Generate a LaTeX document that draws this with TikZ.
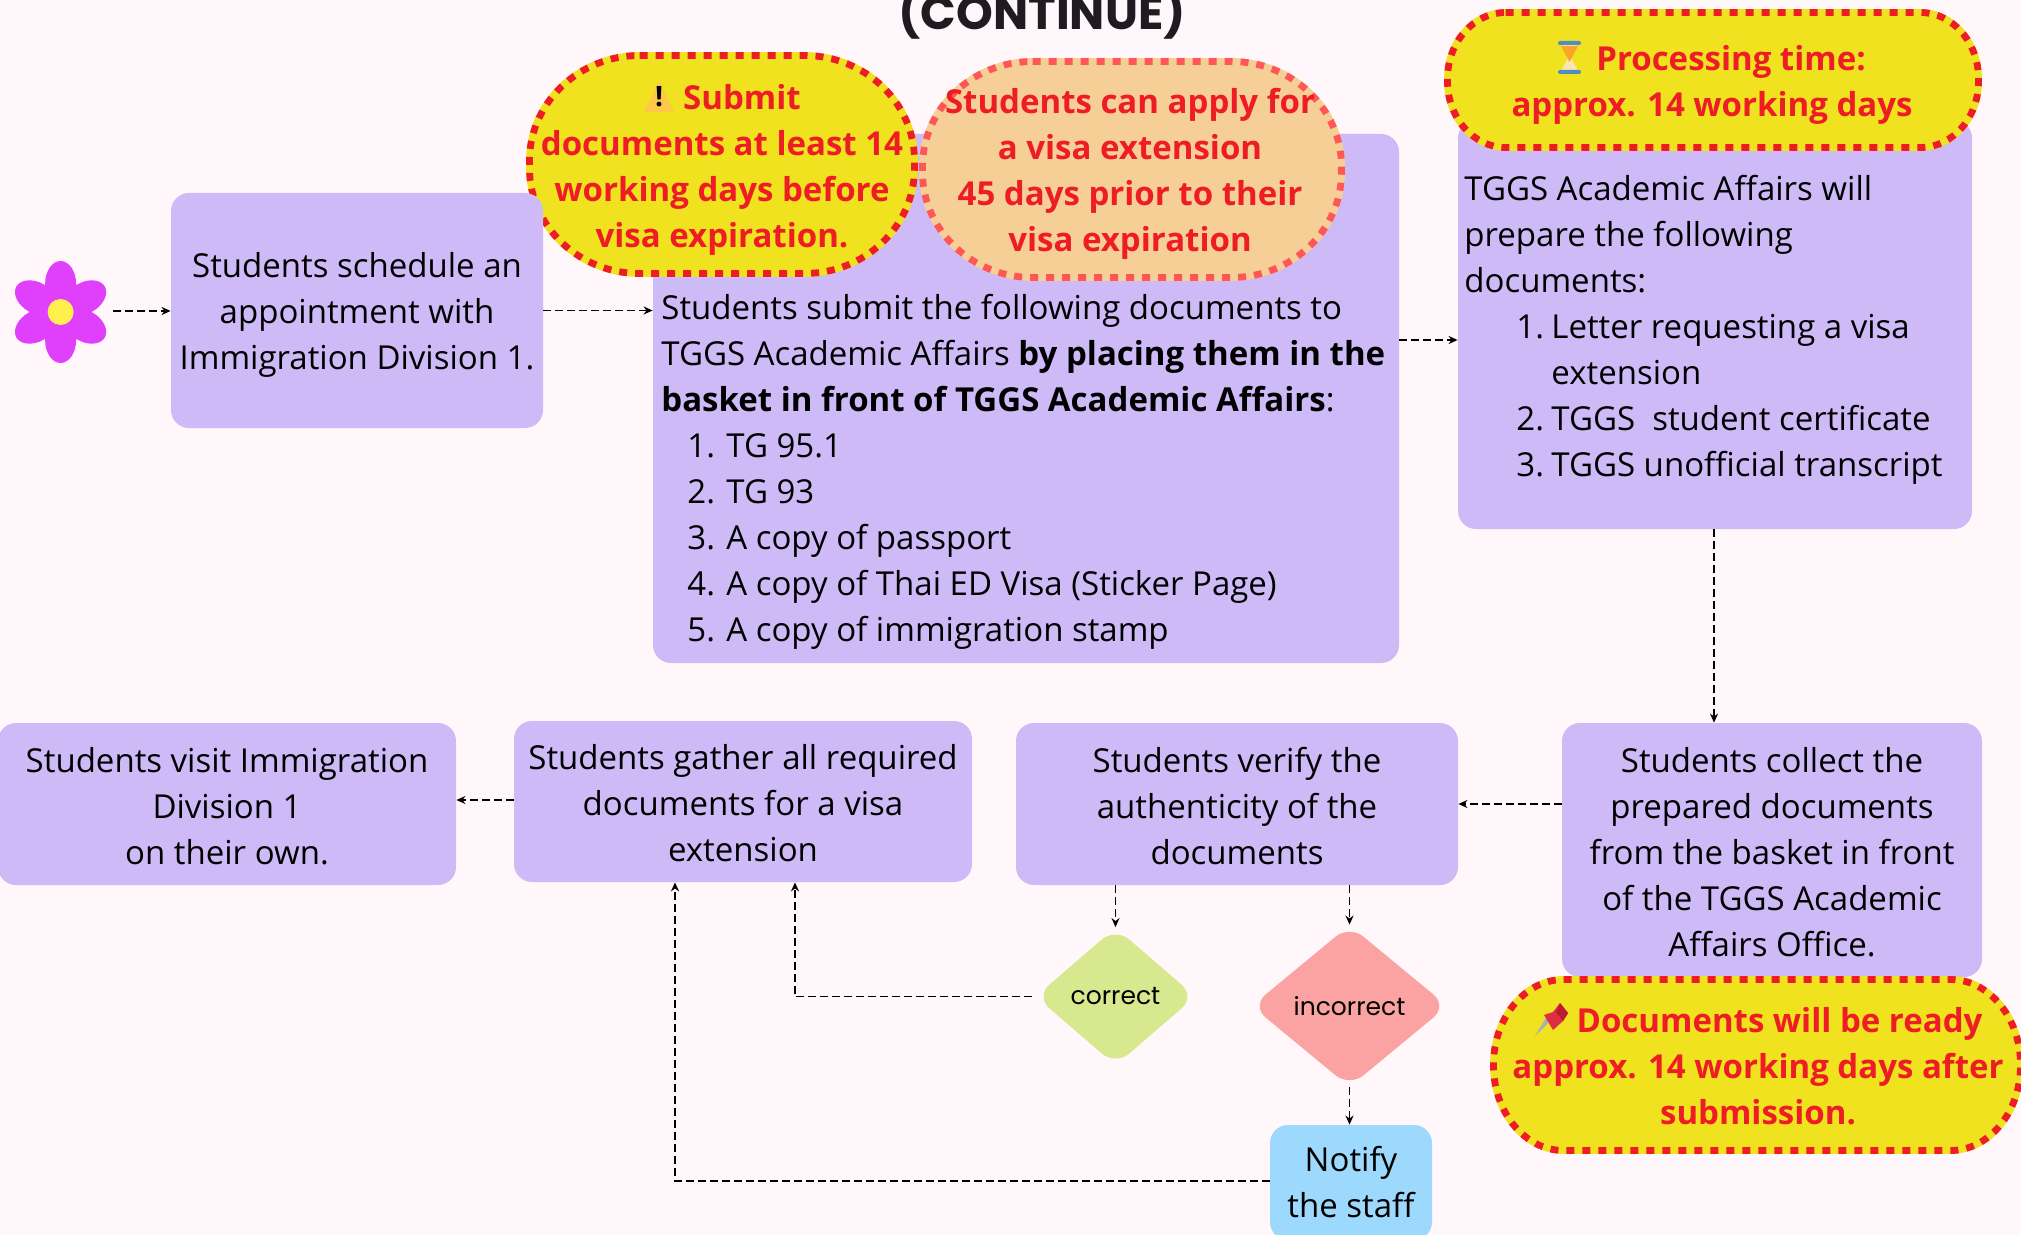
\documentclass[tikz,border=0pt]{standalone}
\usepackage{fontspec}
\setmainfont{Open Sans}
\newfontfamily\popp{Poppins}
\usetikzlibrary{arrows.meta,shapes.geometric}
\definecolor{bgc}{RGB}{255,247,250}
\definecolor{purp}{RGB}{207,186,248}
\definecolor{yel}{RGB}{240,226,31}
\definecolor{redt}{RGB}{238,28,37}
\definecolor{orng}{RGB}{245,207,150}
\definecolor{dashr}{RGB}{255,87,87}
\definecolor{grn}{RGB}{215,232,143}
\definecolor{pnk}{RGB}{251,163,163}
\definecolor{blu}{RGB}{156,217,253}
\definecolor{petal}{RGB}{224,64,251}
\definecolor{ctr}{RGB}{255,240,77}
\definecolor{titlec}{RGB}{31,27,32}
\definecolor{warnc}{RGB}{253,200,70}
\definecolor{glassc}{RGB}{252,228,180}
\definecolor{sandc}{RGB}{250,165,40}
\definecolor{capc}{RGB}{79,143,191}
\definecolor{needlec}{RGB}{160,175,190}
\definecolor{pinc}{RGB}{221,46,68}
\definecolor{pindark}{RGB}{190,25,50}
\newcommand{\bodyfont}{\fontsize{16.5}{23}\selectfont}
\newcommand{\li}[1]{\makebox[19.5pt][l]{#1}}
\newcommand{\lii}[1]{\makebox[17.5pt][l]{#1}}
\newcommand{\tdown}[1]{\rule{0pt}{#1}}
\newcommand{\blobshape}[8]{%
  \pgfmathsetmacro{\xa}{#1+3.5}\pgfmathsetmacro{\xb}{#3-3.5}%
  \pgfmathsetmacro{\ya}{#2+3.5}\pgfmathsetmacro{\yb}{#4-3.5}%
  \pgfmathsetmacro{\rx}{#5}\pgfmathsetmacro{\ry}{#6}%
  \pgfmathsetmacro{\cx}{0.45*\rx}\pgfmathsetmacro{\cy}{0.45*\ry}%
  \draw[blob,fill=#7,draw=#8,preaction={draw=#7,solid,line width=3.4pt}]
    (\xa+\rx,\ya) -- (\xb-\rx,\ya)
    .. controls (\xb-\cx,\ya) and (\xb,\ya+\cy) .. (\xb,\ya+\ry)
    -- (\xb,\yb-\ry)
    .. controls (\xb,\yb-\cy) and (\xb-\cx,\yb) .. (\xb-\rx,\yb)
    -- (\xa+\rx,\yb)
    .. controls (\xa+\cx,\yb) and (\xa,\yb-\cy) .. (\xa,\yb-\ry)
    -- (\xa,\ya+\ry)
    .. controls (\xa,\ya+\cy) and (\xa+\cx,\ya) .. (\xa+\rx,\ya) -- cycle;%
}
\tikzset{
  box/.style={rounded corners=9pt,fill=purp,inner sep=0pt,align=center,font=\bodyfont,text=black},
  plain/.style={inner sep=0pt,align=left,font=\bodyfont,text=black},
  blob/.style={line width=3.4pt,dash pattern=on 4pt off 4pt},
  alert/.style={inner sep=0pt,align=center,font=\bodyfont\bfseries,text=redt},
  conn/.style={draw=black,line width=0.85pt,dash pattern=on 4pt off 2pt,-{Stealth[length=4.5pt,width=4pt]}},
  deci/.style={shape=diamond,inner sep=0pt,rounded corners=9pt,font=\popp\fontsize{12.5}{15}\selectfont,text=black}
}
\begin{document}
\begin{tikzpicture}[x=0.5pt,y=-0.5pt]
\useasboundingbox (0,0) rectangle (2021,1235);
\fill[bgc] (0,0) rectangle (2021,1235);
% title
\node[inner sep=0pt,anchor=base,font=\popp\bfseries\fontsize{23.4}{28}\selectfont,text=titlec] (title) at (1042,30) {(CONTINUE)};
% flower
\foreach \a in {30,90,150,210,270,330}
  \fill[petal,shift={(60.6,312)},rotate=\a] (28,0) ellipse [x radius=23,y radius=15.5];
\node[circle,fill=ctr,inner sep=0pt,minimum size=13pt] (flower) at (60.6,312) {};
\coordinate (flowerout) at (113,311);
% main upper boxes and callouts
\node[box,minimum width=373pt,minimum height=264.5pt] (B) at (1026,398.5) {};
\blobshape{526}{52}{918}{277}{110}{105}{yel}{redt}
\node[box,minimum width=186pt,minimum height=117.5pt] (A) at (357,310.5) {\tdown{17.2pt}Students schedule an\\appointment with\\Immigration Division 1.};
\blobshape{919}{58}{1345}{281}{110}{105}{orng}{dashr}
\node[box,minimum width=257pt,minimum height=204.5pt] (C) at (1715,324.5) {};
\blobshape{1444}{9}{1982}{151}{58}{66}{yel}{redt}
\node[box,minimum width=210pt,minimum height=127pt] (D) at (1772,850) {\tdown{14.5pt}Students collect the\\prepared documents\\from the basket in front\\of the TGGS Academic\\Affairs Office.};
\blobshape{1490}{976}{2024}{1154}{70}{85}{yel}{redt}
% text of long boxes
\node[plain,anchor=north west] (Btext) at (661,294) {Students submit the following documents to\\
TGGS Academic Affairs \textbf{by placing them in the}\\
\textbf{basket in front of TGGS Academic Affairs}:\\
\hspace*{13pt}\li{1.}TG 95.1\\
\hspace*{13pt}\li{2.}TG 93\\
\hspace*{13pt}\li{3.}A copy of passport\\
\hspace*{13pt}\li{4.}A copy of Thai ED Visa (Sticker Page)\\
\hspace*{13pt}\li{5.}A copy of immigration stamp};
\node[plain,anchor=north west] (Ctext) at (1464,175) {TGGS Academic Affairs will\\
prepare the following\\
documents:\\
\hspace*{26pt}\lii{1.}Letter requesting a visa\\
\hspace*{26pt}\lii{}extension\\
\hspace*{26pt}\lii{2.}TGGS\ \ student certificate\\
\hspace*{26pt}\lii{3.}TGGS unofficial transcript};
% callout text
\node[alert] (note1) at (722,170) {\rule{20pt}{0pt}Submit\\documents at least 14\\working days before\\visa expiration.};
\node[alert] (note2) at (1130,174) {Students can apply for\\a visa extension\\45 days prior to their\\visa expiration};
\node[alert] (note3) at (1712,85) {\rule{19pt}{0pt}Processing time:\\approx. 14 working days};
\node[alert] (note4) at (1758,1066) {\rule{21.5pt}{0pt}Documents will be ready\\approx. 14 working days after\\submission.};
% warning sign
\fill[warnc,rounded corners=1pt] (659,81) -- (674,112) -- (644,112) -- cycle;
\node[inner sep=0pt,font=\fontsize{14}{14}\selectfont\bfseries,text=black] (warnmark) at (659,97) {!};
% hourglass
\fill[glassc] (1561,44) -- (1578,44) -- (1571,58) -- (1578,71) -- (1561,71) -- (1568,58) -- cycle;
\fill[sandc] (1561,46) -- (1578,46) -- (1569.5,62) -- cycle;
\fill[capc,rounded corners=1pt] (1558,41) rectangle (1581,45);
\fill[capc,rounded corners=1pt] (1558,70) rectangle (1581,74);
% pin
\fill[needlec] (1535,1036) -- (1549,1013) -- (1553,1018) -- cycle;
\fill[pinc] (1560,1003) -- (1568,1013) -- (1563,1021) -- (1553,1030) -- (1544,1015) -- (1553,1012) -- cycle;
\fill[pindark] (1560,1003) -- (1568,1013) -- (1563,1021) -- (1556,1012) -- cycle;
% lower boxes
\node[box,minimum width=221pt,minimum height=81pt] (E) at (1237,804) {\tdown{15.1pt}Students verify the\\authenticity of the\\documents};
\node[box,minimum width=229pt,minimum height=80.5pt] (F) at (743,801.5) {\tdown{13.8pt}Students gather all required\\documents for a visa\\extension};
\node[box,minimum width=229pt,minimum height=81pt] (G) at (227,804) {\tdown{15.1pt}Students visit Immigration\\Division 1\\on their own.};
\node[box,fill=blu,minimum width=81pt,minimum height=57.5pt] (N) at (1351,1182.5) {Notify\\the staff};
\node[deci,fill=grn,minimum width=80pt,minimum height=69pt] (ok) at (1115.5,996.5) {correct};
\node[deci,fill=pnk,minimum width=98pt,minimum height=81pt] (bad) at (1349.5,1006) {incorrect};
% connectors
\coordinate (bcy) at (0,340);
\coordinate (cdx) at (1714,0);
\coordinate (okx) at (795,0);
\coordinate (ny) at (675,1181);
\coordinate (fgy) at (0,800);
\draw[conn] (flowerout) -- (A.west |- flowerout);
\draw[conn] (A.east) -- (A.east -| B.west);
\draw[conn] (B.east |- bcy) -- (C.west |- bcy);
\draw[conn] (C.south -| cdx) -- (D.north -| cdx);
\draw[conn] (D.west |- E.east) -- (E.east);
\draw[conn] (ok.north |- E.south) -- (ok.north);
\draw[conn] (bad.north |- E.south) -- (bad.north);
\draw[conn] (bad.south) -- (bad.south |- N.north);
\draw[conn,shorten <=1.5pt] (ok.west) -| (okx |- F.south);
\draw[conn] (N.west |- ny) -| (ny |- F.south);
\draw[conn] (F.west |- fgy) -- (G.east |- fgy);
\end{tikzpicture}
\end{document}
